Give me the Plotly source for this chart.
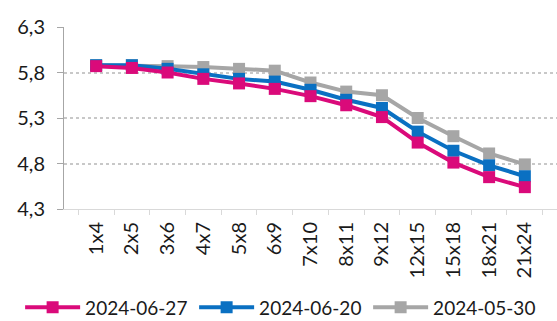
import plotly.graph_objects as go

tenors = ["1x4", "2x5", "3x6", "4x7", "5x8", "6x9", "7x10", "8x11", "9x12",
          "12x15", "15x18", "18x21", "21x24"]

curve_2024_06_27 = [5.87, 5.85, 5.80, 5.73, 5.68, 5.62, 5.54, 5.44, 5.31, 5.03, 4.81, 4.65, 4.54]
curve_2024_06_20 = [5.88, 5.88, 5.84, 5.78, 5.73, 5.70, 5.61, 5.50, 5.41, 5.15, 4.94, 4.78, 4.66]
curve_2024_05_30 = [5.88, 5.88, 5.87, 5.86, 5.84, 5.82, 5.69, 5.59, 5.55, 5.30, 5.10, 4.91, 4.79]

series = [
    ("2024-06-27", curve_2024_06_27, "#DA0A7A"),
    ("2024-06-20", curve_2024_06_20, "#0A70C2"),
    ("2024-05-30", curve_2024_05_30, "#A6A6A6"),
]

fig = go.Figure()
# draw oldest curve first so the latest sits on top
for name, vals, color in reversed(series):
    fig.add_trace(go.Scatter(
        x=tenors, y=vals, name=name, mode="lines+markers",
        line=dict(color=color, width=4),
        marker=dict(symbol="square", size=12, color=color),
    ))

fig.update_layout(
    width=557, height=321,
    margin=dict(l=64, r=0, t=27, b=112, autoexpand=False),
    paper_bgcolor="white", plot_bgcolor="white",
    separators=",.",
    font=dict(family="Lato, Noto Sans, sans-serif", size=18, color="#1a1a1a"),
    showlegend=True,
    legend=dict(orientation="h", traceorder="reversed",
                x=-0.089, xanchor="left", y=-0.54, yanchor="middle",
                font=dict(size=19), itemwidth=55, tracegroupgap=0,
                entrywidth=104, entrywidthmode="pixels"),
    xaxis=dict(type="category", showgrid=False, showline=True, linecolor="#D9D9D9",
               linewidth=1, ticks="outside", tickson="boundaries", ticklen=5,
               tickcolor="#D9D9D9", tickangle=-90, tickfont=dict(size=20),
               ticklabelstandoff=4),
    yaxis=dict(range=[4.3, 6.3], tickvals=[4.3, 4.8, 5.3, 5.8, 6.3], tickformat=".1f",
               showgrid=True, gridcolor="#C8C8C8", griddash="dot", gridwidth=1.5,
               showline=True, linecolor="#A6A6A6", linewidth=1,
               ticks="outside", ticklen=6, tickcolor="#A6A6A6",
               tickfont=dict(size=20), ticklabelstandoff=8, zeroline=False),
)

fig.write_html("out.html")
